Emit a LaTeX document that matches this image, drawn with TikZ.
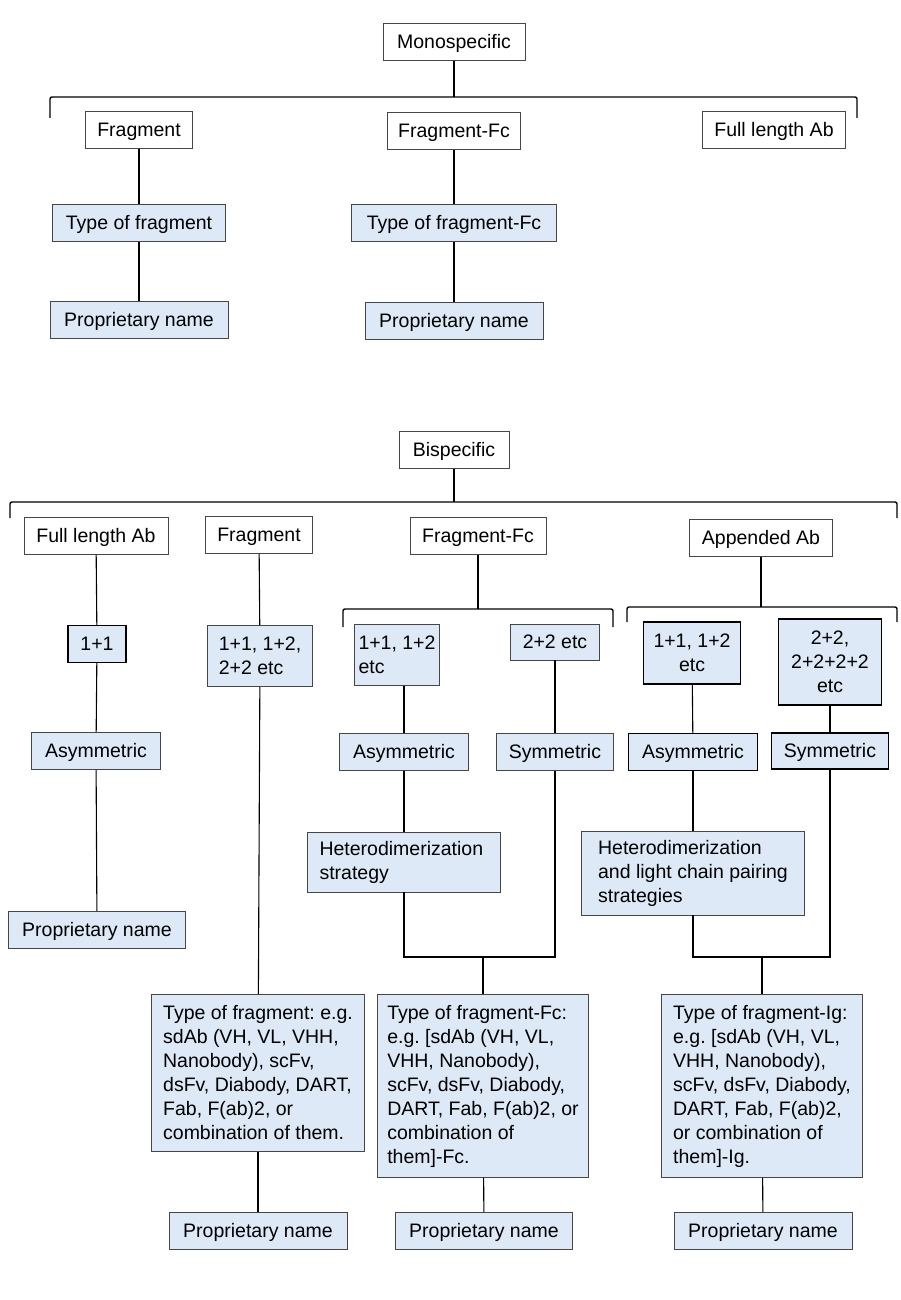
\documentclass[tikz,border=0pt]{standalone}
\usepackage{fontspec}
\setmainfont{Liberation Sans}
\definecolor{boxblue}{RGB}{221,233,246}
\definecolor{edge}{RGB}{70,70,70}
\tikzset{
  frame/.style={draw=edge, line width=0.9pt, fill=white, minimum height=37pt, inner sep=0pt},
  plain/.style={frame, text height=13.5pt, text depth=0pt},
  shade/.style={plain, fill=boxblue},
  dark/.style={shade, draw=black, line width=1.4pt},
  note/.style={frame, fill=boxblue, align=left},
  darknote/.style={note, draw=black, line width=1.4pt, align=center},
  link/.style={line width=1.1pt},
  brace/.style={line width=1.4pt, rounded corners=2pt}
}
\begin{document}
\frenchspacing
\begin{tikzpicture}[x=1pt,y=-1pt,font=\fontsize{19.5}{24}\selectfont]
\useasboundingbox (0,0) rectangle (900,1300);

% monospecific branch
\node[plain,minimum width=142pt] (mono) at (454,42) {Monospecific};
\coordinate (mtop) at (454,97);
\draw[brace] (50,118) -- (50,97) -- (857,97) -- (857,118);
\node[plain,minimum width=107pt] (mfrag) at (139,130) {Fragment};
\node[plain,minimum width=133pt] (mfc) at (454,131) {Fragment-Fc};
\node[plain,minimum width=143pt] (mfull) at (774,130) {Full length Ab};
\node[shade,minimum width=173pt] (mtype) at (139,223) {Type of fragment};
\node[shade,minimum width=178pt] (mprop) at (139,320) {Proprietary name};
\node[shade,minimum width=205pt] (mtypefc) at (454,223) {Type of fragment-Fc};
\node[shade,minimum width=178pt] (mpropfc) at (454,321) {Proprietary name};
\draw[link] (mono) -- (mtop);
\draw[link] (mfrag) -- (mtype);
\draw[link] (mtype) -- (mprop);
\draw[link] (mfc) -- (mtypefc);
\draw[link] (mtypefc) -- (mpropfc);

% bispecific branch
\node[plain,minimum width=110pt] (bis) at (454,450) {Bispecific};
\coordinate (btop) at (454,502);
\draw[brace] (10,518) -- (10,502) -- (897,502) -- (897,518);
\node[plain,minimum width=144pt] (bfull) at (96,536) {Full length Ab};
\node[plain,minimum width=107pt] (bfrag) at (259,535) {Fragment};
\node[plain,minimum width=136pt] (bfc) at (478,536) {Fragment-Fc};
\node[plain,minimum width=143pt] (bapp) at (761,538) {Appended Ab};
\draw[link] (bis) -- (btop);

% full length Ab
\node[dark,minimum width=58pt] (fone) at (97,644) {1+1};
\node[shade,minimum width=129pt] (fasym) at (96,751) {Asymmetric};
\node[shade,minimum width=177pt] (fprop) at (97,930) {Proprietary name};
\draw[link] (bfull) -- (fone);
\draw[link] (fone) -- (fasym);
\draw[link] (fasym) -- (fprop);

% fragment
\node[note,minimum width=105pt,minimum height=61pt] (gratio) at (260,656) {1+1, 1+2,\\2+2 etc};
\node[note,minimum width=213pt,minimum height=157pt] (gtype) at (258,1073)
  {Type of fragment: e.g.\\sdAb (VH, VL, VHH,\\Nanobody), scFv,\\dsFv, Diabody, DART,\\Fab, F(ab)2, or\\combination of them.};
\node[shade,minimum width=178pt] (gprop) at (258,1231) {Proprietary name};
\draw[link] (bfrag) -- (gratio);
\draw[link] (gratio) -- (gtype);
\draw[link] (gtype) -- (gprop);

% fragment-Fc
\coordinate (ctop) at (478,609);
\draw[brace] (343,627) -- (343,609) -- (613,609) -- (613,627);
\draw[link] (bfc) -- (ctop);
\node[note,minimum width=85pt,minimum height=61pt] (cratio) at (397,655) {1+1, 1+2\\etc};
\node[shade,minimum width=89pt,minimum height=36pt] (cratiob) at (555,642) {2+2 etc};
\node[shade,minimum width=129pt] (casym) at (404,752) {Asymmetric};
\node[shade,minimum width=117pt] (csym) at (555,752) {Symmetric};
\node[note,minimum width=193pt,minimum height=60pt,text width=169pt] (chet) at (404,862) {Heterodimerization\\strategy};
\coordinate (cjoin) at (483,957);
\node[note,minimum width=211pt,minimum height=183pt] (ctype) at (483,1086)
  {Type of fragment-Fc:\\e.g. [sdAb (VH, VL,\\VHH, Nanobody),\\scFv, dsFv, Diabody,\\DART, Fab, F(ab)2, or\\combination of\\them]-Fc.};
\node[shade,minimum width=177pt] (cprop) at (484,1231) {Proprietary name};
\draw[link] (cratio.south -| casym) -- (casym);
\draw[link] (cratiob) -- (csym);
\draw[link] (casym) -- (chet);
\draw[link] (chet) |- (cjoin) -| (csym);
\draw[link] (cjoin) -- (ctype);
\draw[link] (ctype) -- (cprop);

% appended Ab
\coordinate (atop) at (761,607);
\draw[brace] (627,622) -- (627,607) -- (897,607) -- (897,622);
\draw[link] (bapp) -- (atop);
\node[darknote,minimum width=97pt,minimum height=62pt] (aratio) at (692,653) {1+1, 1+2\\etc};
\node[darknote,minimum width=103pt,minimum height=86pt] (aratiob) at (830,662) {2+2,\\2+2+2+2\\etc};
\node[dark,minimum width=129pt] (aasym) at (693,752) {Asymmetric};
\node[dark,minimum width=117pt,minimum height=36pt] (asym) at (830,751) {Symmetric};
\node[note,minimum width=223pt,minimum height=84pt] (ahet) at (693,873) {Heterodimerization\\and light chain pairing\\strategies};
\coordinate (ajoin) at (762,957);
\node[note,minimum width=201pt,minimum height=183pt] (atype) at (762,1086)
  {Type of fragment-Ig:\\e.g. [sdAb (VH, VL,\\VHH, Nanobody),\\scFv, dsFv, Diabody,\\DART, Fab, F(ab)2,\\or combination of\\them]-Ig.};
\node[shade,minimum width=178pt] (aprop) at (763,1231) {Proprietary name};
\draw[link] (aratio) -- (aasym);
\draw[link] (aratiob) -- (asym);
\draw[link] (aasym) -- (ahet);
\draw[link] (ahet) |- (ajoin) -| (asym);
\draw[link] (ajoin) -- (atype);
\draw[link] (atype) -- (aprop);
\end{tikzpicture}
\end{document}
